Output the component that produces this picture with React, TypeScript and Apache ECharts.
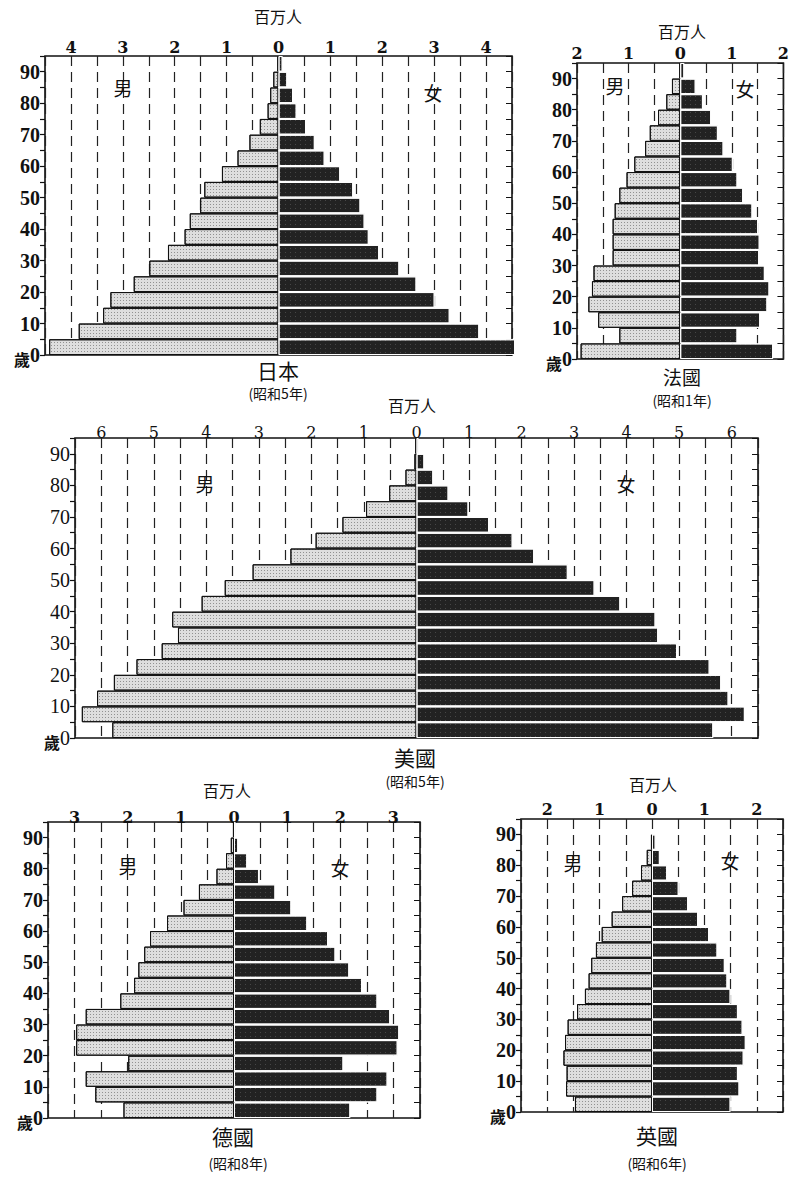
import React, { useEffect, useRef } from "react";
import * as echarts from "echarts";

// Age groups, bottom (0-4) to top (90+)
const AGE_GROUPS = ["0-4", "5-9", "10-14", "15-19", "20-24", "25-29", "30-34", "35-39", "40-44", "45-49", "50-54", "55-59", "60-64", "65-69", "70-74", "75-79", "80-84", "85-89", "90+"];

// Population in millions
const JAPAN_MALE = [4.42, 3.85, 3.38, 3.24, 2.79, 2.49, 2.13, 1.81, 1.71, 1.51, 1.43, 1.09, 0.79, 0.56, 0.36, 0.21, 0.16, 0.1, 0.02];
const JAPAN_FEMALE = [4.56, 3.87, 3.3, 3.01, 2.66, 2.33, 1.94, 1.74, 1.66, 1.58, 1.44, 1.19, 0.89, 0.7, 0.53, 0.35, 0.28, 0.17, 0.08];

const FRANCE_MALE = [1.93, 1.18, 1.59, 1.78, 1.71, 1.68, 1.31, 1.31, 1.31, 1.27, 1.18, 1.04, 0.89, 0.68, 0.59, 0.43, 0.27, 0.16, 0.01];
const FRANCE_FEMALE = [1.8, 1.11, 1.55, 1.69, 1.73, 1.64, 1.53, 1.54, 1.51, 1.4, 1.22, 1.11, 1.02, 0.84, 0.73, 0.6, 0.44, 0.3, 0.08];

const US_MALE = [5.79, 6.37, 6.08, 5.76, 5.33, 4.85, 4.54, 4.65, 4.09, 3.65, 3.12, 2.4, 1.92, 1.41, 0.96, 0.52, 0.21, 0.04, 0.02];
const US_FEMALE = [5.65, 6.25, 5.94, 5.8, 5.58, 4.96, 4.6, 4.55, 3.88, 3.39, 2.88, 2.24, 1.83, 1.38, 0.99, 0.61, 0.32, 0.15, 0.04];

const GERMANY_MALE = [2.08, 2.61, 2.79, 1.99, 2.97, 2.97, 2.79, 2.14, 1.88, 1.8, 1.69, 1.58, 1.26, 0.95, 0.66, 0.33, 0.15, 0.06, 0.02];
const GERMANY_FEMALE = [2.19, 2.7, 2.89, 2.06, 3.08, 3.11, 2.94, 2.7, 2.41, 2.17, 1.91, 1.77, 1.38, 1.08, 0.78, 0.47, 0.25, 0.08, 0.03];

const UK_MALE = [1.47, 1.64, 1.63, 1.69, 1.66, 1.61, 1.43, 1.28, 1.21, 1.16, 1.07, 0.96, 0.77, 0.57, 0.38, 0.21, 0.1, 0.02, 0];
const UK_FEMALE = [1.5, 1.67, 1.64, 1.75, 1.79, 1.73, 1.64, 1.5, 1.44, 1.39, 1.25, 1.09, 0.88, 0.69, 0.51, 0.29, 0.15, 0.07, 0];

const UNIT_LABEL = "百万人";
const MALE_LABEL = "男";
const FEMALE_LABEL = "女";
const AGE_LABEL = "歲";

const CJK = "Noto Sans CJK TC";
const SERIF_X = "DejaVu Serif";
const SERIF_Y = "Liberation Serif";

type Panel = {
  male: number[];
  female: number[];
  max: number;
  title: string;
  era: string;
  left: number;
  top: number;
  width: number;
  height: number;
  bold: boolean;
  xMargin: number;
  unitPos: [number, number];
  malePos: [number, number];
  femalePos: [number, number];
  titlePos: [number, number];
  eraPos: [number, number];
};

const PANELS: Panel[] = [
  {
    male: JAPAN_MALE, female: JAPAN_FEMALE, max: 4.5, title: "日本", era: "(昭和5年)",
    left: 45, top: 56, width: 467, height: 299, bold: true, xMargin: 1,
    unitPos: [278, 16], malePos: [123, 87], femalePos: [433, 92], titlePos: [278, 370], eraPos: [278, 393],
  },
  {
    male: FRANCE_MALE, female: FRANCE_FEMALE, max: 2, title: "法國", era: "(昭和1年)",
    left: 577, top: 63, width: 208, height: 296, bold: true, xMargin: 2,
    unitPos: [682, 31], malePos: [615, 85], femalePos: [745, 88], titlePos: [682, 376], eraPos: [682, 400],
  },
  {
    male: US_MALE, female: US_FEMALE, max: 6.5, title: "美國", era: "(昭和5年)",
    left: 75, top: 438, width: 683, height: 300, bold: false, xMargin: -2,
    unitPos: [412, 405], malePos: [205, 483], femalePos: [626, 483], titlePos: [415, 757], eraPos: [415, 781],
  },
  {
    male: GERMANY_MALE, female: GERMANY_FEMALE, max: 3.5, title: "德國", era: "(昭和8年)",
    left: 48, top: 822, width: 372, height: 296, bold: true, xMargin: -3,
    unitPos: [227, 790], malePos: [128, 865], femalePos: [340, 867], titlePos: [233, 1136], eraPos: [238, 1163],
  },
  {
    male: UK_MALE, female: UK_FEMALE, max: 2.5, title: "英國", era: "(昭和6年)",
    left: 521, top: 819, width: 262, height: 293, bold: true, xMargin: 2,
    unitPos: [653, 784], malePos: [573, 862], femalePos: [730, 860], titlePos: [657, 1135], eraPos: [657, 1163],
  },
];

function text(t: string, pos: [number, number], size: number, weight = "normal") {
  return {
    type: "text",
    x: pos[0],
    y: pos[1],
    z: 50,
    style: {
      text: t,
      fill: "#111",
      fontSize: size,
      fontFamily: CJK,
      fontWeight: weight,
      textAlign: "center",
      textVerticalAlign: "middle",
      align: "center",
      verticalAlign: "middle",
    },
  };
}

function buildOption() {
  const grid: any[] = [];
  const xAxis: any[] = [];
  const yAxis: any[] = [];
  const series: any[] = [];
  const graphic: any[] = [];

  PANELS.forEach((p, i) => {
    grid.push({
      left: p.left, top: p.top, width: p.width, height: p.height,
      show: true, borderColor: "#111", borderWidth: 1.6, backgroundColor: "transparent",
    });
    xAxis.push({
      type: "value", gridIndex: i, position: "top", min: -p.max, max: p.max, interval: 0.5,
      axisLine: { show: false }, axisTick: { show: false },
      axisLabel: {
        show: true, margin: p.xMargin, color: "#111", fontSize: 16, fontFamily: SERIF_X,
        fontWeight: p.bold ? "bold" : "normal",
        showMinLabel: true, showMaxLabel: true,
        formatter: (v: number) => (Math.abs(v - Math.round(v)) < 1e-6 ? String(Math.abs(Math.round(v))) : ""),
      },
      splitLine: { show: true, lineStyle: { type: [10, 6], color: "#222", width: 1.2 } },
    });
    const catIndex = yAxis.length;
    yAxis.push({ type: "category", gridIndex: i, data: AGE_GROUPS, show: false });
    yAxis.push({
      type: "value", gridIndex: i, position: "left", min: 0, max: 95, interval: 5,
      axisLine: { show: false },
      axisTick: { show: true, length: 5, lineStyle: { color: "#111", width: 1.2 } },
      splitLine: { show: false },
      axisLabel: {
        margin: 5, color: "#111", fontSize: 20, fontFamily: SERIF_Y,
        fontWeight: p.bold ? "bold" : "normal",
        formatter: (v: number) => (v % 10 === 0 ? (v === 0 ? "{s|" + AGE_LABEL + "}0" : String(v)) : ""),
        rich: { s: { fontFamily: CJK, fontSize: 16, fontWeight: "bold", color: "#111", padding: [8, 0, 0, 0] } },
      },
    });
    yAxis.push({
      type: "value", gridIndex: i, position: "right", min: 0, max: 95, interval: 5,
      axisLine: { show: false },
      axisTick: { show: true, inside: true, length: 6, lineStyle: { color: "#111", width: 1 } },
      axisLabel: { show: false }, splitLine: { show: false },
    });

    series.push({
      type: "bar", name: MALE_LABEL + i, xAxisIndex: i, yAxisIndex: catIndex,
      data: p.male.map((v) => (v === 0 ? "-" : -v)),
      barCategoryGap: "0%", barGap: "-100%", silent: true, clip: false,
      itemStyle: {
        color: "#dedede", borderColor: "#111", borderWidth: 1,
        decal: { symbol: "rect", symbolSize: 1, dashArrayX: [1, 2], dashArrayY: [1, 2], color: "rgba(0,0,0,0.35)" },
      },
    });
    series.push({
      type: "bar", name: FEMALE_LABEL + i, xAxisIndex: i, yAxisIndex: catIndex,
      data: p.female.map((v) => (v === 0 ? "-" : v)),
      barCategoryGap: "0%", barGap: "-100%", silent: true, clip: false,
      itemStyle: {
        color: "#222222", borderColor: "#ffffff", borderWidth: 1,
        decal: { symbol: "rect", symbolSize: 1, dashArrayX: [1, 4], dashArrayY: [1, 3], color: "rgba(255,255,255,0.16)" },
      },
    });

    graphic.push(text(UNIT_LABEL, p.unitPos, 16));
    graphic.push(text(MALE_LABEL, p.malePos, 19));
    graphic.push(text(FEMALE_LABEL, p.femalePos, 19));
    graphic.push(text(p.title, p.titlePos, i === 1 ? 19 : 21));
    graphic.push(text(p.era, p.eraPos, 14));
  });

  return {
    animation: false,
    backgroundColor: "#ffffff",
    grid, xAxis, yAxis, series, graphic,
  };
}

export default function App() {
  const ref = useRef<HTMLDivElement>(null);
  useEffect(() => {
    if (!ref.current) return;
    const chart = echarts.init(ref.current, undefined, { renderer: "svg" });
    chart.setOption(buildOption() as any);
    return () => chart.dispose();
  }, []);
  return <div ref={ref} style={{ position: "fixed", left: 0, top: 0, width: 792, height: 1180, background: "#fff" }} />;
}
